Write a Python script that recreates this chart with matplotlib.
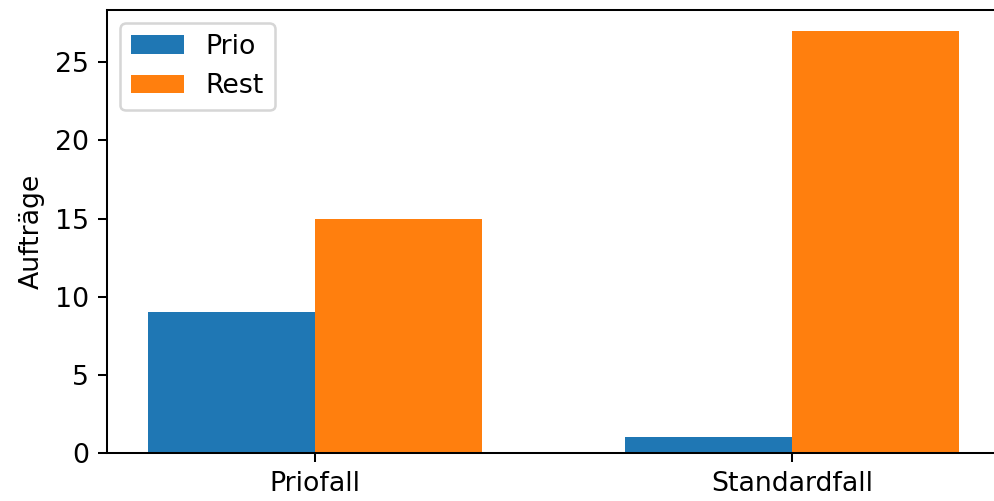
import matplotlib
matplotlib.use("Agg")
import matplotlib.pyplot as plt
import numpy as np

categories = ["Priofall", "Standardfall"]
prio = [9, 1]
rest = [15, 27]

plt.rcParams["font.size"] = 10.5

DPI = 183
W, H = 994, 501
fig = plt.figure(figsize=(W / DPI, H / DPI), dpi=DPI)
# axes placed in pixel terms; the right edge runs slightly past the canvas
left, right, top, bottom = 107, 1000, 10, 453
ax = fig.add_axes([left / W, (H - bottom) / H, (right - left) / W, (bottom - top) / H])

x = np.arange(len(categories))
width = 0.35
ax.bar(x - width / 2, prio, width, label="Prio", color="#1f77b4")
ax.bar(x + width / 2, rest, width, label="Rest", color="#ff7f0e")

ax.set_xticks(x)
ax.set_xticklabels(categories)
ax.set_ylabel("Aufträge")
ax.legend(loc="upper left")

fig.savefig("out.png", dpi=DPI)
